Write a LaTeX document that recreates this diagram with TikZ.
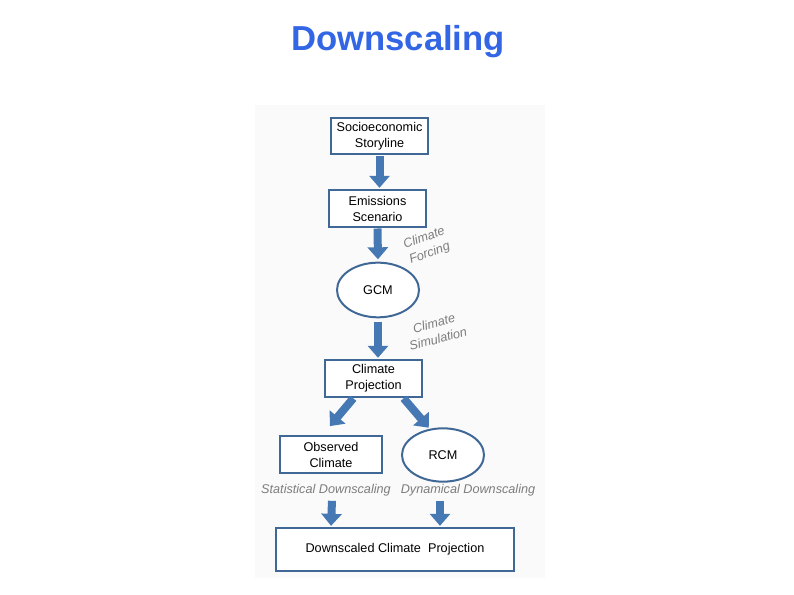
\documentclass[tikz,border=0pt]{standalone}
\usepackage{fontspec}
\setmainfont{Liberation Sans}
\usetikzlibrary{arrows.meta,shapes.geometric,calc}
\definecolor{titleblue}{RGB}{51,102,229}
\definecolor{boxline}{RGB}{63,104,150}
\definecolor{arrowblue}{RGB}{70,120,180}
\definecolor{notegray}{RGB}{125,125,125}
\tikzset{
  stage/.style={draw=boxline, line width=1.5pt, fill=white, align=center,
    font=\fontsize{9.5}{12}\selectfont, minimum width=72.75pt, minimum height=27.5pt,
    inner sep=1pt},
  model/.style={stage, ellipse, minimum width=61.5pt, minimum height=41pt},
  flow/.style={draw=arrowblue, line width=6pt,
    -{Triangle[width=15pt,length=9pt]}, shorten <=0.5pt, shorten >=1pt},
  note/.style={text=notegray, align=center, inner sep=0pt,
    font=\fontsize{9.5}{12}\selectfont\itshape}
}
\begin{document}
\begin{tikzpicture}[x=0.75pt,y=-0.75pt]
\useasboundingbox (0,0) rectangle (794,595);
\fill[white!98!black] (255,105) rectangle (545,578);

\node[text=titleblue, font=\fontsize{26}{30}\selectfont\bfseries] (title) at (398,42) {Downscaling};

\node[stage] (story) at (379.5,136) {Socioeconomic\\Storyline};
\node[stage] (emis) at (377.5,208.5) {Emissions\\Scenario};
\node[model] (gcm) at (378,290) {GCM};
\node[stage] (proj) at (373.5,378.5) {Climate\\Projection};
\node[stage, minimum width=76.5pt] (obs) at (331,454.5) {Observed\\Climate};
\node[model, minimum height=40pt] (rcm) at (443,455) {RCM};
\node[stage, minimum width=178.5pt, minimum height=32pt] (down) at (395,549.5) {Downscaled Climate~~Projection};

\node[note, rotate=20] (forcing) at (427,246) {Climate\\Forcing};
\node[note, rotate=15] (simul) at (436,331) {Climate\\Simulation};
\node[note] (stat) at (326,490) {Statistical Downscaling};
\node[note] (dyn) at (468,490) {Dynamical Downscaling};

\draw[flow] (story.south) -- (emis.north -| story.south);
\draw[flow] (emis.south) -- ($(gcm.north)+(0,-1)$);
\draw[flow] ($(gcm.south)+(0,3)$) -- (proj.north -| gcm.south);
\draw[flow] ($(proj.south)!0.4!(proj.south west)$) -- ($(obs.north)+(-2,-8)$);
\draw[flow] ($(proj.south)!0.6!(proj.south east)$) -- (rcm.117);
\draw[flow] ($(stat.south)+(6,4)$) -- (down.north -| obs.south);
\draw[flow] ($(dyn.south)+(-28,4)$) -- ($(down.north)+(45,0)$);

\end{tikzpicture}
\end{document}
